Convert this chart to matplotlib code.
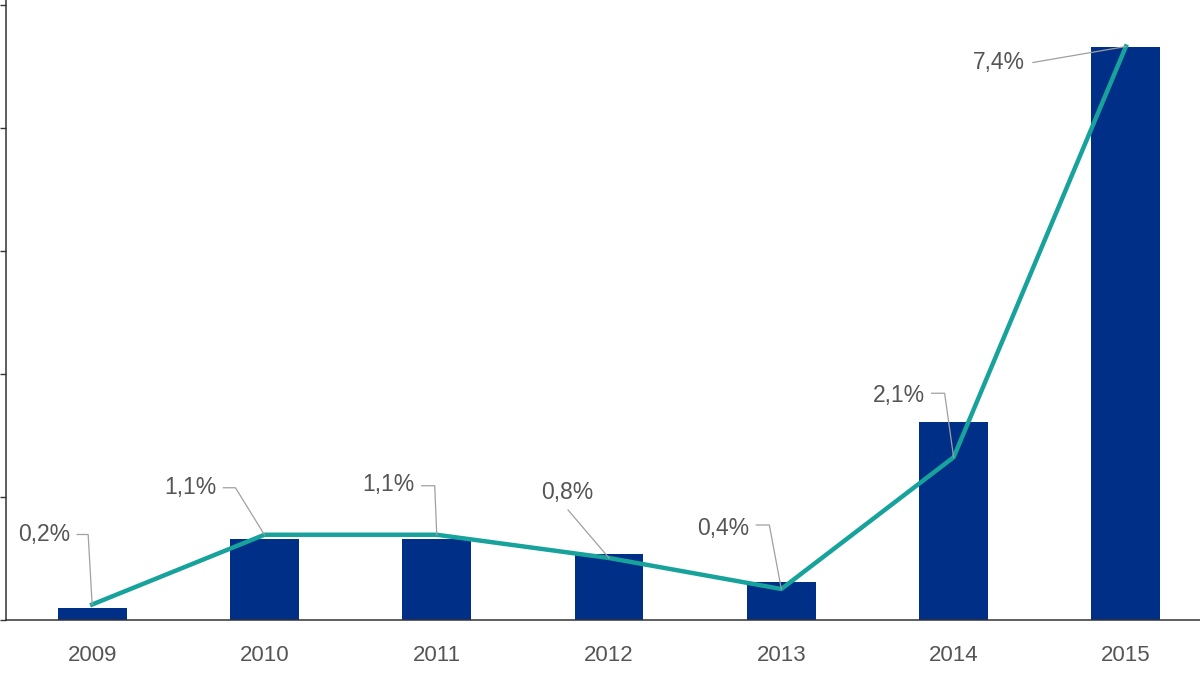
import numpy as np
import matplotlib.pyplot as plt
from matplotlib.lines import Line2D
from matplotlib.transforms import IdentityTransform

plt.rcParams['font.family'] = ['Liberation Sans', 'DejaVu Sans']

# data
years = ['2009', '2010', '2011', '2012', '2013', '2014', '2015']
bar_values = [50, 330, 330, 270, 155, 805, 2330]
pct_values = [0.2, 1.1, 1.1, 0.8, 0.4, 2.1, 7.4]
pct_labels = ['0,2%', '1,1%', '1,1%', '0,8%', '0,4%', '2,1%', '7,4%']

# label placement in pixels relative to the line point:
# (text dx, text dy, ha, leader start dx, dy, corner dx or None)
label_pos = [
    (-22, 70, 'right', -15, 70, -4),
    (-48, 47, 'right', -41, 47, -29),
    (-22, 50, 'right', -15, 49, -2),
    (-42, 65, 'center', -41, 48, None),
    (-32, 61, 'right', -25, 64, -12),
    (-29, 62, 'right', -22, 64, -9),
    (-101, -16, 'right', -93, -16, None),
]

bar_color = '#002F87'
line_color = '#17A29C'
text_color = '#555555'
axis_color = '#333333'

fig = plt.figure(figsize=(12, 6.75), dpi=100)
ax = fig.add_axes([0.005, 55/675, 0.995, 620/675])
x = np.arange(len(years))

ax.bar(x, bar_values, width=0.4, color=bar_color, zorder=2)
ax.set_xlim(-0.5, 6.43)
ax.set_ylim(0, 2520)
ax.set_yticks(np.arange(0, 2501, 500))
ax.set_yticklabels([])
ax.set_xticks(x)
ax.set_xticklabels(years, fontsize=16, color=text_color)
ax.tick_params(axis='x', length=0, pad=18)
ax.tick_params(axis='y', direction='out', length=4.5, width=1, color=axis_color)
for s in ['top', 'right']:
    ax.spines[s].set_visible(False)
for s in ['left', 'bottom']:
    ax.spines[s].set_color(axis_color)
    ax.spines[s].set_linewidth(1.1)

ax2 = ax.twinx()
ax2.set_ylim(0, 8.0)
ax2.set_xlim(-0.5, 6.43)
ax2.axis('off')
ax2.plot(x, pct_values, color=line_color, lw=3.2, solid_joinstyle='round', zorder=3)

for i, (v, lab) in enumerate(zip(pct_values, pct_labels)):
    tdx, tdy, ha, sdx, sdy, cdx = label_pos[i]
    px, py = ax2.transData.transform((i, v))
    ax2.annotate(lab, xy=(i, v), xytext=(tdx, tdy), textcoords='offset pixels',
                 ha=ha, va='center', fontsize=16.5, color=text_color)
    xs = [px + sdx]
    ys = [py + sdy]
    if cdx is not None:
        xs.append(px + cdx)
        ys.append(py + sdy)
    xs.append(px)
    ys.append(py)
    fig.add_artist(Line2D(xs, ys, transform=IdentityTransform(),
                          color='#A0A0A0', lw=0.9, zorder=5))

fig.savefig('out.png', dpi=100)
